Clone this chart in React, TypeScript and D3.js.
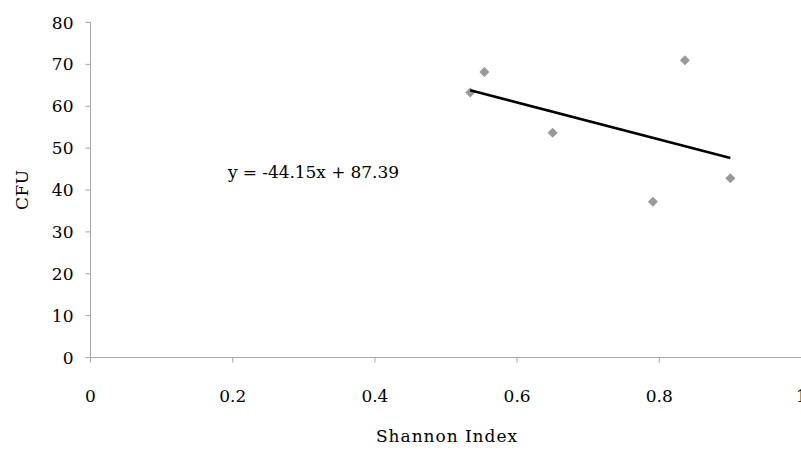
import React from "react";
import * as d3 from "d3";

const shannon = [0.534, 0.554, 0.65, 0.791, 0.836, 0.9];
const cfu = [63.3, 68.2, 53.7, 37.2, 71.0, 42.8];
const xTicks = [0, 0.2, 0.4, 0.6, 0.8, 1];
const yTicks = [0, 10, 20, 30, 40, 50, 60, 70, 80];
const slope = -44.15;
const intercept = 87.39;

const W = 801;
const H = 452;
const font = "'DejaVu Serif', serif";

const App = () => {
  const x = d3.scaleLinear().domain([0, 1]).range([90.5, 801.5]);
  const y = d3.scaleLinear().domain([0, 80]).range([357.5, 22.5]);

  const xMin = d3.min(shannon) as number;
  const xMax = d3.max(shannon) as number;
  const trend = d3
    .line<number>()
    .x(d => x(d))
    .y(d => y(slope * d + intercept));

  // square rotated 45deg looks like the Excel diamond marker
  const diamond = d3.symbol().type(d3.symbolSquare).size(50)();

  return (
    <svg width={W} height={H} style={{ position: "absolute", left: 0, top: 0 }}>
      <rect width={W} height={H} fill="#fff" />
      {/* axes */}
      <line x1={x(0)} x2={x(0)} y1={y(80)} y2={y(0)} stroke="#a6a6a6" />
      <line x1={x(0)} x2={W} y1={y(0)} y2={y(0)} stroke="#a6a6a6" />
      {yTicks.map(t => (
        <g key={"y" + t}>
          <line x1={x(0) - 5} x2={x(0)} y1={y(t)} y2={y(t)} stroke="#a6a6a6" />
          <text x={73.5} y={y(t)} dy="0.36em" textAnchor="end" fontFamily={font} fontSize={17} fill="#000">
            {t}
          </text>
        </g>
      ))}
      {xTicks.map(t => (
        <g key={"x" + t}>
          <line x1={x(t)} x2={x(t)} y1={y(0)} y2={y(0) + 5} stroke="#a6a6a6" />
          <text x={x(t)} y={402} textAnchor="middle" fontFamily={font} fontSize={17} fill="#000">
            {t}
          </text>
        </g>
      ))}
      {/* points */}
      {shannon.map((s, i) => (
        <path
          key={i}
          d={diamond as string}
          transform={`translate(${x(s)},${y(cfu[i])}) rotate(45)`}
          fill="#999999"
        />
      ))}
      {/* trend line */}
      <path d={trend([xMin, xMax]) as string} fill="none" stroke="#000" strokeWidth={2.5} />
      <text x={228} y={178} fontFamily={font} fontSize={17} fill="#000" textLength={171}>
        y = -44.15x + 87.39
      </text>
      {/* axis titles */}
      <text
        transform={`translate(28,190) rotate(-90)`}
        textAnchor="middle"
        fontFamily={font}
        fontSize={17}
        fill="#000"
        textLength={40}
      >
        CFU
      </text>
      <text x={376} y={442} fontFamily={font} fontSize={17} fill="#000" textLength={141}>
        Shannon Index
      </text>
    </svg>
  );
};

export default App;
